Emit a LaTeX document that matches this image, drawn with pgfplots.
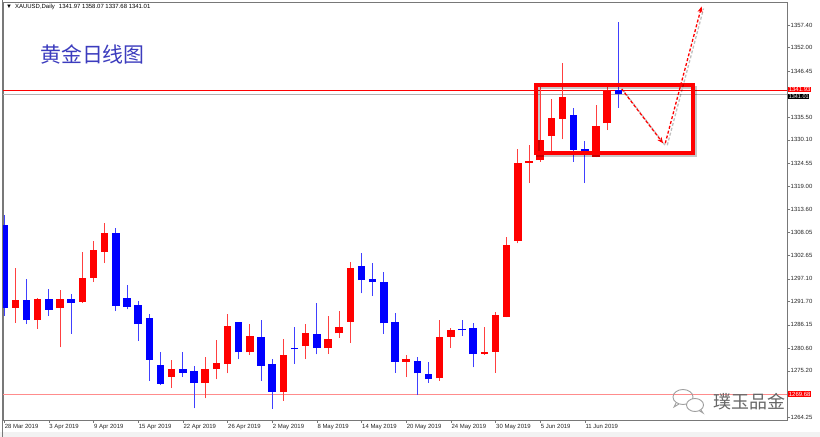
\documentclass[border=0pt]{standalone}
\usepackage{fontspec}
\setmainfont{Liberation Sans}
\newfontfamily\cjk{Noto Sans CJK SC}
\usepackage{pgfplots}
\pgfplotsset{compat=1.18}
\usepackage{pgfplotstable}
\usetikzlibrary{arrows.meta}

% daily candles: bar index, open, high, low, close
\pgfplotstableread{
i  o       h       l       c
1  1290.20 1299.60 1286.70 1292.00
3  1287.30 1292.50 1285.20 1292.20
5  1290.10 1294.40 1280.80 1292.20
7  1291.60 1303.50 1291.40 1297.35
8  1297.35 1306.10 1296.30 1303.90
9  1303.50 1310.40 1300.80 1308.05
15 1273.80 1277.80 1271.10 1275.60
18 1272.30 1278.60 1268.70 1275.60
19 1275.65 1282.55 1273.20 1277.00
20 1276.85 1288.70 1274.60 1285.95
22 1279.60 1286.30 1279.00 1283.50
25 1270.30 1282.70 1268.10 1279.00
27 1281.10 1286.30 1278.00 1284.10
29 1280.60 1288.25 1279.20 1282.80
30 1284.10 1289.50 1283.10 1285.70
31 1286.90 1301.20 1281.80 1299.60
36 1277.40 1279.00 1273.70 1277.96
39 1273.45 1287.30 1272.90 1283.30
40 1283.30 1285.30 1280.60 1284.90
43 1279.30 1285.60 1279.00 1279.80
44 1279.80 1289.30 1274.80 1288.50
45 1288.10 1307.10 1287.90 1305.10
46 1306.10 1327.90 1305.50 1324.70
47 1324.70 1328.90 1319.80 1325.10
48 1325.30 1343.50 1324.90 1330.10
49 1331.00 1339.75 1326.75 1335.40
50 1335.10 1348.30 1330.25 1340.20
53 1326.10 1338.40 1325.95 1333.40
54 1334.00 1342.90 1332.45 1341.96
}\upbars

\pgfplotstableread{
i  o       h       l       c
0  1309.90 1312.30 1288.30 1290.20
2  1292.05 1297.05 1286.30 1287.30
4  1292.20 1294.60 1288.30 1289.70
6  1292.20 1293.50 1284.00 1291.40
10 1308.05 1309.10 1289.40 1290.70
11 1292.45 1295.60 1289.85 1290.50
12 1290.90 1291.90 1282.30 1286.30
13 1287.70 1288.70 1272.90 1277.80
14 1276.60 1279.60 1271.90 1272.10
16 1275.65 1279.60 1273.70 1274.80
17 1275.20 1276.40 1266.30 1272.30
21 1286.75 1286.90 1277.96 1279.60
23 1283.30 1287.30 1272.90 1276.40
24 1276.85 1278.00 1266.15 1270.30
26 1280.60 1285.70 1276.85 1280.35
28 1283.95 1291.40 1279.15 1280.60
32 1300.20 1303.30 1293.65 1296.80
33 1297.10 1300.90 1293.00 1296.30
34 1296.40 1298.80 1284.00 1286.50
35 1286.90 1289.00 1274.80 1277.40
37 1277.60 1278.60 1269.50 1274.60
38 1274.50 1277.25 1272.40 1273.20
41 1285.20 1287.30 1283.60 1284.90
42 1285.30 1286.50 1276.06 1279.20
51 1336.00 1337.60 1324.90 1327.70
52 1327.90 1329.80 1319.80 1327.10
55 1341.97 1358.07 1337.68 1341.01
}\downbars

\definecolor{titleblue}{RGB}{60,60,190}
\definecolor{framegray}{RGB}{120,120,120}

\begin{document}
\begin{tikzpicture}[x=1bp,y=1bp]
\path[use as bounding box] (-3,-17) rectangle (817,420);
\fill[white] (-3,-17) rectangle (817,420);
\fill[gray!10] (-3,-17) rectangle (817,-12);
\draw[framegray, line width=0.6bp] (-0.5,-17) -- (-0.5,420);

\begin{axis}[
    at={(0,0)}, anchor=south west,
    scale only axis, width=784bp, height=418bp,
    xmin=-0.1, xmax=70.1, ymin=1263.54, ymax=1362.87,
    clip mode=individual,
    axis line style={draw=framegray, line width=0.6bp},
    xtick pos=bottom, ytick pos=right, yticklabel pos=right,
    tick align=outside, major tick length=3bp,
    tick style={draw=framegray, line width=0.5bp},
    xtick={0,4,...,52},
    xticklabels={28 Mar 2019, 3 Apr 2019, 9 Apr 2019, 15 Apr 2019, 22 Apr 2019, 26 Apr 2019, 2 May 2019, 8 May 2019, 14 May 2019, 20 May 2019, 24 May 2019, 30 May 2019, 5 Jun 2019, 11 Jun 2019},
    ytick={1264.25,1275.20,1280.60,1286.15,1291.70,1297.10,1302.65,1308.05,1313.60,1319.00,1324.55,1330.10,1335.50,1346.45,1352.00,1357.40},
    yticklabels={1264.25,1275.20,1280.60,1286.15,1291.70,1297.10,1302.65,1308.05,1313.60,1319.00,1324.55,1330.10,1335.50,1346.45,1352.00,1357.40},
    ticklabel style={font=\fontsize{6}{7}\selectfont, text=black!85},
    xticklabel style={anchor=north west, inner sep=1bp, xshift=-0.5bp},
    yticklabel style={anchor=west, inner sep=0.5bp},
]
% reference price lines
\addplot[red!45, line width=0.8bp, forget plot] coordinates {(-0.1,1269.68) (70.1,1269.68)};
\addplot[black!30, line width=0.6bp, forget plot] coordinates {(-0.1,1341.01) (70.1,1341.01)};
\addplot[red, line width=0.6bp, forget plot] coordinates {(-0.1,1341.93) (70.1,1341.93)};

% wicks
\addplot[draw=none, forget plot, error bars/.cd, y dir=plus, y explicit, error mark=none,
    error bar style={draw=red!75, line width=0.8bp}]
    table[x=i, y=l, y error expr=\thisrow{h}-\thisrow{l}] {\upbars};
\addplot[draw=none, forget plot, error bars/.cd, y dir=plus, y explicit, error mark=none,
    error bar style={draw=blue!75, line width=0.8bp}]
    table[x=i, y=l, y error expr=\thisrow{h}-\thisrow{l}] {\downbars};
% bodies
\addplot[draw=none, forget plot, error bars/.cd, y dir=plus, y explicit, error mark=none,
    error bar style={draw=red, line width=7.5bp}]
    table[x=i, y=o, y error expr={max(\thisrow{c}-\thisrow{o},0.25)}] {\upbars};
\addplot[draw=none, forget plot, error bars/.cd, y dir=plus, y explicit, error mark=none,
    error bar style={draw=blue, line width=7.5bp}]
    table[x=i, y=c, y error expr={max(\thisrow{o}-\thisrow{c},0.25)}] {\downbars};

% consolidation box with drop shadow
\draw[black, opacity=0.22, line width=3.5bp, shift={(2.5bp,-2.5bp)}]
    (axis cs:47.58,1343.15) rectangle (axis cs:61.64,1326.99);
\draw[red, line width=4bp] (axis cs:47.58,1343.15) rectangle (axis cs:61.64,1326.99);

% expected path arrows
\begin{scope}[line width=1.3bp, dash pattern=on 3bp off 2bp]
\draw[black, opacity=0.25, shift={(2bp,-2bp)}] (axis cs:55.3,1342.2) -- (axis cs:59.0,1329.3);
\draw[black, opacity=0.25, shift={(2bp,-2bp)}] (axis cs:59.2,1329.3) -- (axis cs:62.45,1361.8);
\draw[red, -{Stealth[length=6bp, width=5bp]}] (axis cs:55.3,1342.2) -- (axis cs:59.0,1329.3);
\draw[red, -{Stealth[length=6bp, width=5bp]}] (axis cs:59.2,1329.3) -- (axis cs:62.45,1361.8);
\end{scope}

% price labels on the scale
\node[fill=black, text=white, anchor=north west, inner sep=0.6bp, font=\fontsize{5.5}{6}\selectfont]
    at ([xshift=1bp]axis cs:70.1,1341.01) {1341.01};
\node[fill=red, text=white, anchor=west, inner sep=0.6bp, font=\fontsize{6}{7}\selectfont]
    at ([xshift=1bp, yshift=0.6bp]axis cs:70.1,1341.93) {1341.93};
\node[fill=red, text=white, anchor=west, inner sep=0.7bp, font=\fontsize{6}{7}\selectfont]
    at ([xshift=1bp]axis cs:70.1,1269.68) {1269.68};
\end{axis}

% header and title
\node[anchor=west, inner sep=0, font=\fontsize{6}{7}\selectfont] at (3,413)
    {▼\hspace{3bp}XAUUSD,Daily\hspace{4bp}1341.97 1358.07 1337.68 1341.01};
\node[anchor=west, inner sep=0, text=titleblue] at (37,366)
    {\cjk\fontsize{21}{21}\selectfont 黄金日线图};

% watermark
\begin{scope}[draw=gray!75, line width=0.9bp]
\draw (680,23) ellipse (10bp and 7.5bp);
\draw[fill=white] (692,15) ellipse (8.5bp and 6.5bp);
\draw (673,17) -- (671,13) -- (676,16);
\draw (698,10) -- (700,7) -- (696,9.5);
\end{scope}
\node[anchor=west, inner sep=0, text=gray!80!black] at (710,18)
    {\cjk\fontsize{18}{18}\selectfont 璞玉品金};
\end{tikzpicture}
\end{document}
